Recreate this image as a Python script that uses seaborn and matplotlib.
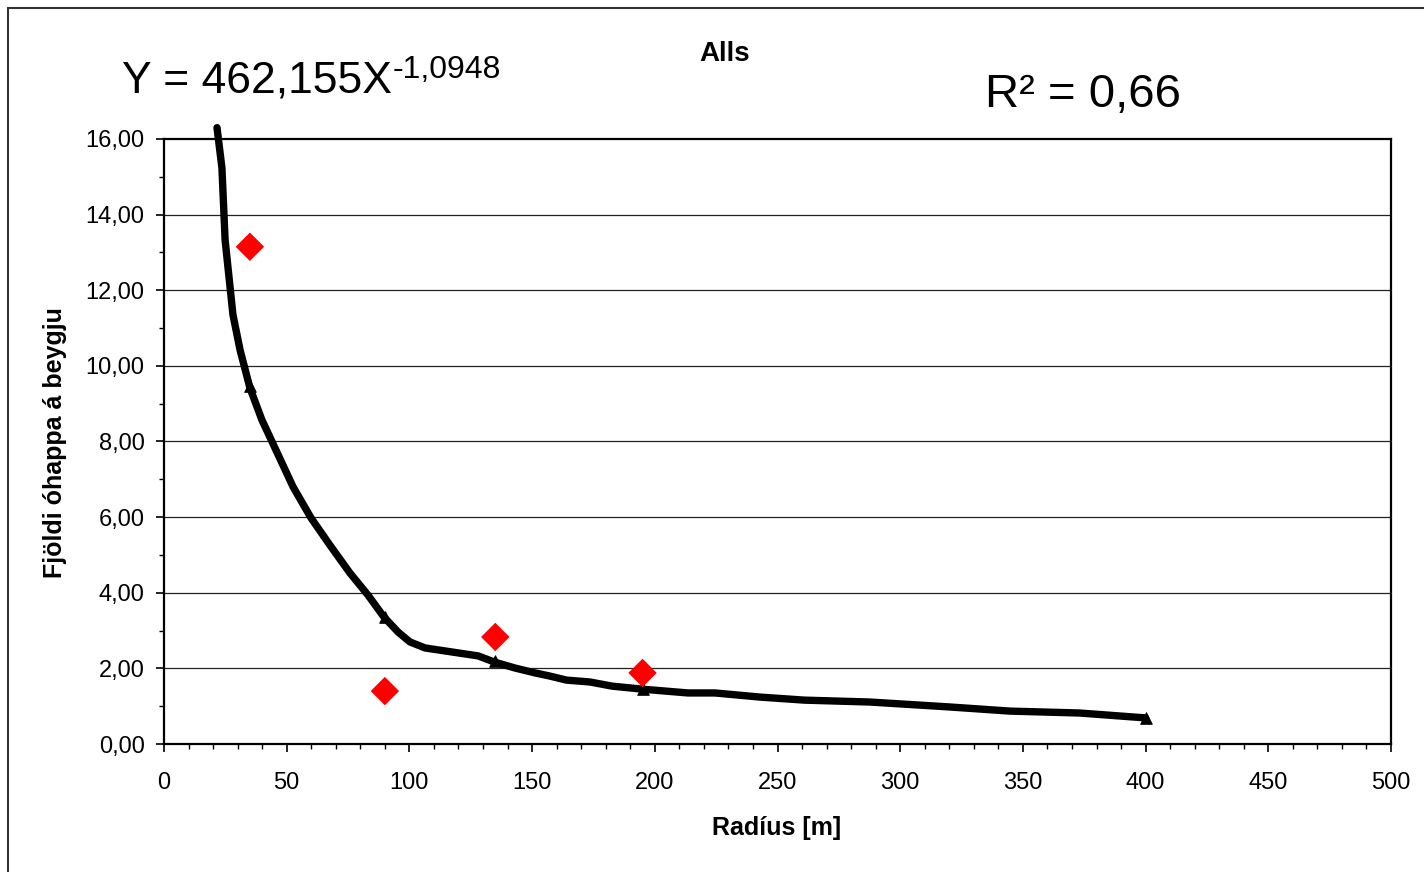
import matplotlib
matplotlib.use("Agg")
import matplotlib.pyplot as plt
import seaborn as sns
import pandas as pd
from matplotlib.patches import Rectangle

# observed points (red diamonds)
obs_radius = [35, 90, 135, 195]
obs_count = [13.15, 1.40, 2.83, 1.88]

# fitted values at data radii (black triangles)
fit_radius = [35, 90, 135, 195, 400]
fit_count = [9.47, 3.36, 2.20, 1.45, 0.69]

# fitted curve
curve_radius = [21.6, 23.6, 24.9, 28.1, 31.0, 35.0, 39.9, 46.5, 52.6, 59.9,
                67.6, 75.8, 83.1, 89.6, 95.4, 100.2, 106.4, 128.0, 134.5, 143.0,
                151.2, 157.0, 164.0, 173.6, 182.6, 195.0, 213.5, 224.5, 243.0,
                261.0, 287.7, 320.0, 344.7, 373.0, 400.0]
curve_count = [16.3, 15.24, 13.33, 11.35, 10.42, 9.42, 8.57, 7.65, 6.80, 5.98,
               5.26, 4.52, 3.94, 3.36, 2.96, 2.70, 2.54, 2.33, 2.17, 2.01,
               1.88, 1.80, 1.69, 1.64, 1.53, 1.45, 1.35, 1.35, 1.24,
               1.16, 1.11, 0.98, 0.87, 0.82, 0.69]

x_ticks = list(range(0, 501, 50))
y_ticks = list(range(0, 17, 2))
y_tick_labels = ["0,00", "2,00", "4,00", "6,00", "8,00", "10,00", "12,00", "14,00", "16,00"]

sns.set_style("white")
plt.rcParams["font.family"] = ["Liberation Sans", "DejaVu Sans"]
plt.rcParams["text.color"] = "black"
plt.rcParams["xtick.color"] = "black"
plt.rcParams["ytick.color"] = "black"

df_curve = pd.DataFrame({"radius": curve_radius, "count": curve_count})
df_obs = pd.DataFrame({"radius": obs_radius, "count": obs_count})
df_fit = pd.DataFrame({"radius": fit_radius, "count": fit_count})

fig = plt.figure(figsize=(14.24, 8.72), dpi=100)
ax = fig.add_axes([164 / 1424, 1 - 744 / 872, (1391 - 164) / 1424, (744 - 139) / 872])

sns.lineplot(data=df_curve, x="radius", y="count", sort=False, color="black",
             linewidth=5.3, ax=ax, zorder=3)
ax.lines[-1].set_clip_on(False)
ax.lines[-1].set_solid_joinstyle("round")
sns.scatterplot(data=df_fit, x="radius", y="count", marker="^", color="black",
                s=70, edgecolor="black", ax=ax, zorder=4)
sns.scatterplot(data=df_obs, x="radius", y="count", marker="D", color="#ff0000",
                s=210, edgecolor="none", ax=ax, zorder=5)

ax.set_xlim(0, 500)
ax.set_ylim(0, 16)
ax.set_xticks(x_ticks)
ax.set_xticklabels([str(v) for v in x_ticks])
ax.set_xticks(range(0, 501, 10), minor=True)
ax.set_yticks(y_ticks)
ax.set_yticklabels(y_tick_labels)
ax.set_yticks(range(1, 16, 2), minor=True)
ax.tick_params(axis="both", which="both", bottom=True, left=True, top=False, right=False)
ax.tick_params(axis="both", which="major", direction="out", length=6, width=1.2,
               labelsize=17, color="black", labelcolor="black", pad=8)
ax.tick_params(axis="both", which="minor", direction="out", length=3.5, width=1,
               color="black")
ax.tick_params(axis="x", which="major", pad=14)
for v in y_ticks[1:-1]:
    ax.axhline(v, color="#222222", linewidth=0.9, zorder=1)
for s in ax.spines.values():
    s.set_linewidth(1.6)
    s.set_color("black")
ax.set_xlabel("")
ax.set_ylabel("")

fig.text(777 / 1424, 1 - 835 / 872, "Radíus [m]", ha="center", va="baseline",
         fontsize=18, fontweight="bold")
fig.text(55 / 1424, 1 - 443 / 872, "Fjöldi óhappa á beygju", ha="center", va="center",
         rotation=90, fontsize=18, fontweight="bold")
fig.text(725 / 1424, 1 - 61 / 872, "Alls", ha="center", va="baseline",
         fontsize=20, fontweight="bold")
eq = fig.text(122 / 1424, 1 - 92 / 872, "Y = 462,155X", ha="left", va="baseline", fontsize=32)
fig.canvas.draw()
eq_box = eq.get_window_extent()
fig.text(eq_box.x1 / 1424 + 1 / 1424, 1 - 78 / 872, "-1,0948", ha="left", va="baseline",
         fontsize=23)
fig.text(985 / 1424, 1 - 107 / 872, "R² = 0,66", ha="left", va="baseline", fontsize=34)

fig.patches.append(Rectangle((8 / 1424, -0.1), 1.2, 1.1 - 8 / 872, transform=fig.transFigure,
                             fill=False, linewidth=1.5, edgecolor="#333333"))

fig.savefig("out.png", dpi=100)
